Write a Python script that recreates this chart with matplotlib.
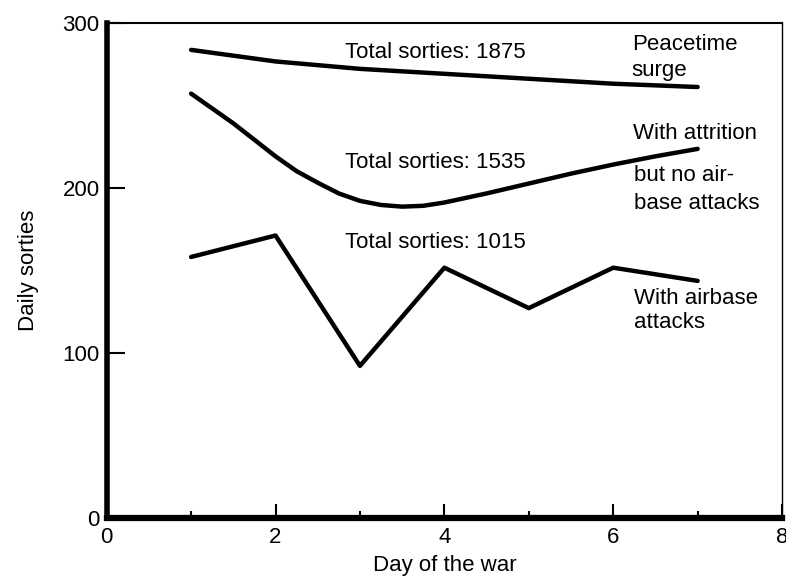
import matplotlib.pyplot as plt
from matplotlib.ticker import MultipleLocator

plt.rcParams['font.family'] = ['Liberation Sans', 'DejaVu Sans']

# values
days = [1, 2, 3, 4, 5, 6, 7]
peacetime = [283.5, 276.5, 272, 269, 266, 263, 261]
attr_days = [1, 1.25, 1.5, 1.75, 2, 2.25, 2.5, 2.75, 3, 3.25, 3.5, 3.75,
             4, 4.5, 5, 5.5, 6, 6.5, 7]
attrition = [257, 248, 239, 229, 219, 210, 203, 196.5, 192, 189.5, 188.5, 189,
             191, 196.5, 202.5, 208.5, 214, 219, 223.5]
airbase = [158, 171, 92, 151.5, 127, 151.5, 143.5]

totals = ["Total sorties: 1875", "Total sorties: 1535", "Total sorties: 1015"]

fig = plt.figure(figsize=(7.86, 5.81), dpi=100)
ax = fig.add_axes([0.1357, 0.109, 0.8593, 0.852])

lw = 3.2
ax.plot(days, peacetime, color='black', lw=lw, solid_capstyle='round')
ax.plot(attr_days, attrition, color='black', lw=lw, solid_capstyle='round',
        solid_joinstyle='round')
ax.plot(days, airbase, color='black', lw=lw, solid_capstyle='round')

ax.set_xlim(0, 8)
ax.set_ylim(0, 300)
ax.xaxis.set_major_locator(MultipleLocator(2))
ax.xaxis.set_minor_locator(MultipleLocator(1))
ax.yaxis.set_major_locator(MultipleLocator(100))

ax.tick_params(axis='x', which='major', direction='in', length=10, width=1.5,
               labelsize=16, pad=7)
ax.tick_params(axis='x', which='minor', direction='in', length=5, width=1.5)
ax.tick_params(axis='y', which='major', direction='in', length=13, width=1.5,
               labelsize=16, pad=5)

ax.spines['left'].set_linewidth(4.0)
ax.spines['bottom'].set_linewidth(4.5)
ax.spines['top'].set_linewidth(1.5)
ax.spines['right'].set_linewidth(1.0)

ax.set_xlabel("Day of the war", fontsize=16, labelpad=5)
ax.set_ylabel("Daily sorties", fontsize=16, labelpad=17)

fs = 16
ax.text(2.82, 282, totals[0], fontsize=fs, va='center')
ax.text(2.82, 215, totals[1], fontsize=fs, va='center')
ax.text(2.82, 166.5, totals[2], fontsize=fs, va='center')

ax.text(6.22, 286.5, "Peacetime", fontsize=fs, va='center')
ax.text(6.22, 271, "surge", fontsize=fs, va='center')
ax.text(6.24, 233, "With attrition", fontsize=fs, va='center')
ax.text(6.25, 207.5, "but no air-", fontsize=fs, va='center')
ax.text(6.25, 190.5, "base attacks", fontsize=fs, va='center')
ax.text(6.25, 133, "With airbase", fontsize=fs, va='center')
ax.text(6.25, 118.5, "attacks", fontsize=fs, va='center')

fig.savefig("out.png", dpi=100)
